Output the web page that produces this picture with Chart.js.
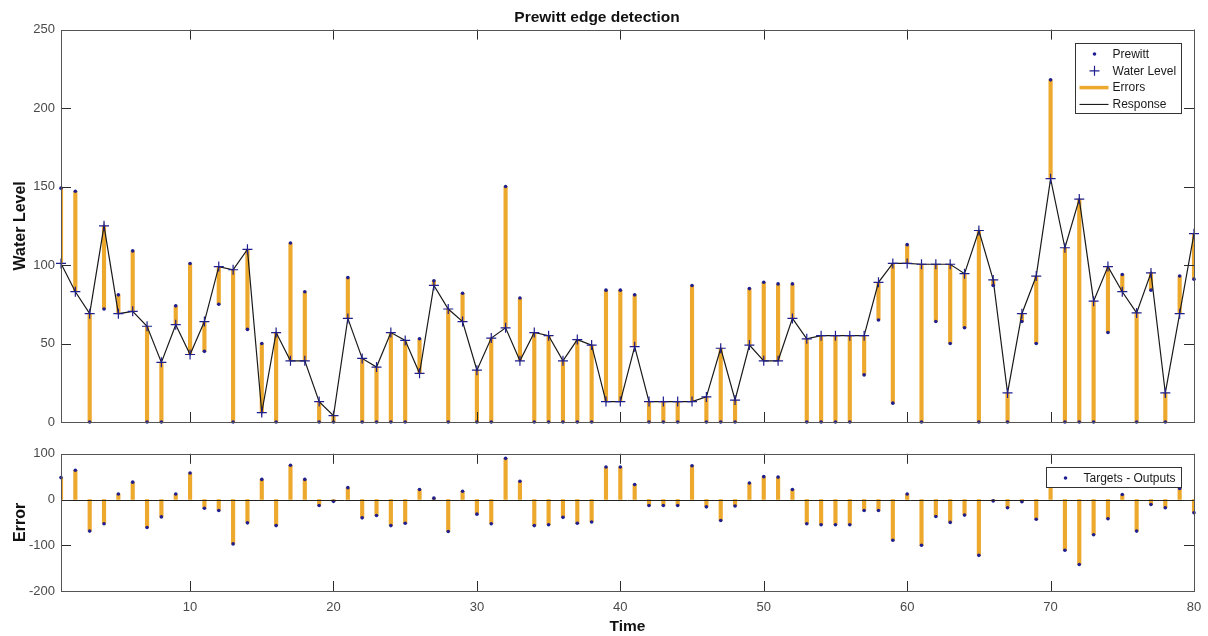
<!DOCTYPE html>
<html>
<head>
<meta charset="utf-8">
<script src="https://cdn.jsdelivr.net/npm/chart.js@4/dist/chart.umd.min.js"></script>
<style>
  html, body { margin: 0; padding: 0; background: #fff; overflow: hidden; }
  .panel { position: absolute; left: 0; width: 1208px; }
</style>
</head>
<body>
<div class="panel" style="top:0;height:440px"><canvas id="responseChart"></canvas></div>
<div class="panel" style="top:440px;height:196px"><canvas id="errorChart"></canvas></div>
<script>
// time steps 1..80
const timeSteps = [1,2,3,4,5,6,7,8,9,10,11,12,13,14,15,16,17,18,19,20,
  21,22,23,24,25,26,27,28,29,30,31,32,33,34,35,36,37,38,39,40,
  41,42,43,44,45,46,47,48,49,50,51,52,53,54,55,56,57,58,59,60,
  61,62,63,64,65,66,67,68,69,70,71,72,73,74,75,76,77,78,79,80];

// targets (dots, "Prewitt")
const prewitt = [149,147,0,72,81,109,0,0,74,101, 45,75,0,59,50,0,114,83,0,0,
  92,0,0,0,0,53,90,0,82,0, 0,150,79,0,0,0,0,0,84,84,
  81,0,0,0,87,0,0,0,85,89, 88,88,0,0,0,0,30,65,12,113,
  0,64,50,60,0,87,0,64,50,218, 0,0,0,57,94,0,84,0,93,91];

// outputs (crosses + black line, "Water Level" / "Response")
const waterLevel = [101,83,69,125,69,70.5,61,38,62,43, 64,99,97,110,6,57,39,39,13,4,
  66,40.5,35,57,52,31,87,72,64,33, 53.5,60,39,57,55,39,52.5,49,13,13,
  48,13,13,13,13,16,47,14,49,39, 39,66,53,55,55,55,55,89,101,101,
  100.5,100.5,100.5,94.5,122,90.5,18.5,69,93,155, 111,142,77,99,83,69.5,95,18.5,69,120];

// targets - outputs (lower panel)
const errors = [48,64,-69,-53,12,38,-61,-38,12,58, -19,-24,-97,-51,44,-57,75,44,-13,-4,
  26,-40,-35,-57,-52,22,3,-70,18,-32, -53,90,40,-57,-55,-39,-52,-49,71,71,
  33,-13,-13,-13,74,-16,-46,-14,36,50, 49,22,-53,-55,-55,-55,-24,-24,-89,12,
  -100,-37,-50,-34,-122,-3,-18,-5,-43,63, -111,-142,-77,-42,11,-69,-11,-18,24,-29];

const xTickValues = [10, 20, 30, 40, 50, 60, 70, 80];
const levelTicks = [0, 50, 100, 150, 200, 250];
const errorTicks = [-200, -100, 0, 100];

const ORANGE = '#EDA92E';
const NAVY = '#1f1f8f';
const FONT = '"Liberation Sans", Arial, sans-serif';

Chart.defaults.font.family = FONT;
Chart.defaults.color = '#4a4a4a';

// MATLAB-like axes box, inner ticks, zero line and boxed legend
const matlabBox = {
  id: 'matlabBox',
  afterDatasetsDraw(chart, args, opts) {
    const { ctx, chartArea: a, scales: { x, y } } = chart;
    ctx.save();
    if (opts.zeroLine) {
      const py = Math.round(y.getPixelForValue(0)) + 0.5;
      ctx.strokeStyle = '#222';
      ctx.lineWidth = 1;
      ctx.beginPath(); ctx.moveTo(a.left, py); ctx.lineTo(a.right, py); ctx.stroke();
    }
    ctx.strokeStyle = '#2b2b2b';
    ctx.lineWidth = 1;
    ctx.beginPath();
    opts.xTicks.forEach(v => {
      const px = Math.round(x.getPixelForValue(v)) + 0.5;
      ctx.moveTo(px, a.top); ctx.lineTo(px, a.top + 10);
      ctx.moveTo(px, a.bottom); ctx.lineTo(px, a.bottom - 10);
    });
    opts.yTicks.forEach(v => {
      const py = Math.round(y.getPixelForValue(v)) + 0.5;
      ctx.moveTo(a.left, py); ctx.lineTo(a.left + 10, py);
      ctx.moveTo(a.right, py); ctx.lineTo(a.right - 10, py);
    });
    ctx.stroke();
    ctx.strokeStyle = '#555';
    ctx.strokeRect(Math.round(a.left) + 0.5, Math.round(a.top) + 0.5,
      Math.round(a.width), Math.round(a.height));

    // legend
    const lg = opts.legend;
    const bx = Math.round(a.right - 13 - lg.width) + 0.5;
    const by = Math.round(a.top + 13) + 0.5;
    ctx.fillStyle = '#fff';
    ctx.fillRect(bx, by, lg.width, lg.height);
    ctx.strokeStyle = '#333';
    ctx.strokeRect(bx, by, lg.width, lg.height);
    ctx.font = '12px ' + FONT;
    ctx.textBaseline = 'middle';
    ctx.textAlign = 'left';
    lg.items.forEach((it, i) => {
      const ry = by + lg.first + i * lg.step;
      const mx = bx + 19;
      if (it.kind === 'dot') {
        ctx.fillStyle = NAVY;
        ctx.beginPath(); ctx.arc(mx, ry, 1.8, 0, Math.PI * 2); ctx.fill();
      } else if (it.kind === 'plus') {
        ctx.strokeStyle = NAVY; ctx.lineWidth = 1.2;
        ctx.beginPath();
        ctx.moveTo(mx - 5, ry); ctx.lineTo(mx + 5, ry);
        ctx.moveTo(mx, ry - 5); ctx.lineTo(mx, ry + 5);
        ctx.stroke();
      } else if (it.kind === 'thick') {
        ctx.strokeStyle = ORANGE; ctx.lineWidth = 3.5;
        ctx.beginPath(); ctx.moveTo(bx + 4, ry); ctx.lineTo(bx + 33, ry); ctx.stroke();
      } else if (it.kind === 'line') {
        ctx.strokeStyle = '#000'; ctx.lineWidth = 1;
        ctx.beginPath(); ctx.moveTo(bx + 4, ry); ctx.lineTo(bx + 33, ry); ctx.stroke();
      }
      ctx.fillStyle = '#1a1a1a';
      ctx.fillText(it.label, bx + 37, ry + 0.5);
    });
    ctx.restore();
  }
};

const pts = vals => timeSteps.map((t, i) => ({ x: t, y: vals[i] }));

const yTitle = text => ({
  display: true, text: text, color: '#111',
  font: { size: 16, weight: 'bold' },
  padding: { top: 11, bottom: 0 }
});

new Chart(document.getElementById('responseChart'), {
  type: 'bar',
  plugins: [matlabBox],
  data: {
    datasets: [
      {
        label: 'Prewitt', type: 'line', data: pts(prewitt), showLine: false,
        pointStyle: 'circle', pointRadius: 1.8, pointBackgroundColor: NAVY,
        pointBorderWidth: 0, clip: false, order: 0
      },
      {
        label: 'Water Level', type: 'line', data: pts(waterLevel), showLine: false,
        pointStyle: 'cross', pointRadius: 5, pointBorderColor: NAVY,
        pointBorderWidth: 1.2, clip: false, order: 1
      },
      {
        label: 'Response', type: 'line', data: pts(waterLevel),
        borderColor: '#1a1a1a', borderWidth: 1.2, pointRadius: 0, tension: 0, order: 2
      },
      {
        label: 'Errors', data: timeSteps.map((t, i) => ({ x: t, y: [waterLevel[i], prewitt[i]] })),
        backgroundColor: ORANGE, barThickness: 3.5, order: 3
      }
    ]
  },
  options: {
    responsive: true,
    maintainAspectRatio: false,
    animation: false,
    layout: { padding: { left: 0, right: 14, top: 0, bottom: 18 } },
    plugins: {
      legend: { display: false },
      tooltip: { enabled: false },
      title: {
        display: true, text: 'Prewitt edge detection', color: '#111',
        font: { size: 15.5, weight: 'bold' },
        padding: { top: 8, bottom: 3 }
      },
      matlabBox: {
        xTicks: xTickValues, yTicks: levelTicks,
        legend: {
          width: 106, height: 70, first: 10.5, step: 16.8,
          items: [
            { label: 'Prewitt', kind: 'dot' },
            { label: 'Water Level', kind: 'plus' },
            { label: 'Errors', kind: 'thick' },
            { label: 'Response', kind: 'line' }
          ]
        }
      }
    },
    scales: {
      x: { type: 'linear', min: 1, max: 80, offset: false, display: false },
      y: {
        min: 0, max: 250,
        afterBuildTicks: s => { s.ticks = levelTicks.map(v => ({ value: v })); },
        afterFit: s => { s.width = 61; },
        ticks: { font: { size: 13 }, padding: 6, color: '#4a4a4a' },
        grid: { display: false, drawTicks: false },
        border: { display: false },
        title: yTitle('Water Level')
      }
    }
  }
});

new Chart(document.getElementById('errorChart'), {
  type: 'bar',
  plugins: [matlabBox],
  data: {
    datasets: [
      {
        label: 'Targets - Outputs', type: 'line', data: pts(errors), showLine: false,
        pointStyle: 'circle', pointRadius: 1.8, pointBackgroundColor: NAVY,
        pointBorderWidth: 0, clip: false, order: 0
      },
      {
        label: 'Errors', data: timeSteps.map((t, i) => ({ x: t, y: [0, errors[i]] })),
        backgroundColor: ORANGE, barThickness: 3.5, order: 1
      }
    ]
  },
  options: {
    responsive: true,
    maintainAspectRatio: false,
    animation: false,
    layout: { padding: { left: 0, right: 14, top: 12, bottom: 0 } },
    plugins: {
      legend: { display: false },
      tooltip: { enabled: false },
      matlabBox: {
        zeroLine: true,
        xTicks: xTickValues, yTicks: errorTicks,
        legend: {
          width: 135, height: 20, first: 10.5, step: 17,
          items: [{ label: 'Targets - Outputs', kind: 'dot' }]
        }
      }
    },
    scales: {
      x: {
        type: 'linear', min: 1, max: 80, offset: false,
        afterBuildTicks: s => { s.ticks = xTickValues.map(v => ({ value: v })); },
        afterFit: s => { s.height = 45; s.paddingRight = 0; s.paddingLeft = 0; },
        ticks: { font: { size: 13 }, padding: 9, color: '#4a4a4a', maxRotation: 0 },
        grid: { display: false, drawTicks: false },
        border: { display: false },
        title: {
          display: true, text: 'Time', color: '#111',
          font: { size: 15.5, weight: 'bold' },
          padding: { top: 0, bottom: 0 }
        }
      },
      y: {
        min: -200, max: 100,
        afterBuildTicks: s => { s.ticks = errorTicks.map(v => ({ value: v })); },
        afterFit: s => { s.width = 61; },
        ticks: { font: { size: 13 }, padding: 6, color: '#4a4a4a' },
        grid: { display: false, drawTicks: false },
        border: { display: false },
        title: yTitle('Error')
      }
    }
  }
});
</script>
</body>
</html>
